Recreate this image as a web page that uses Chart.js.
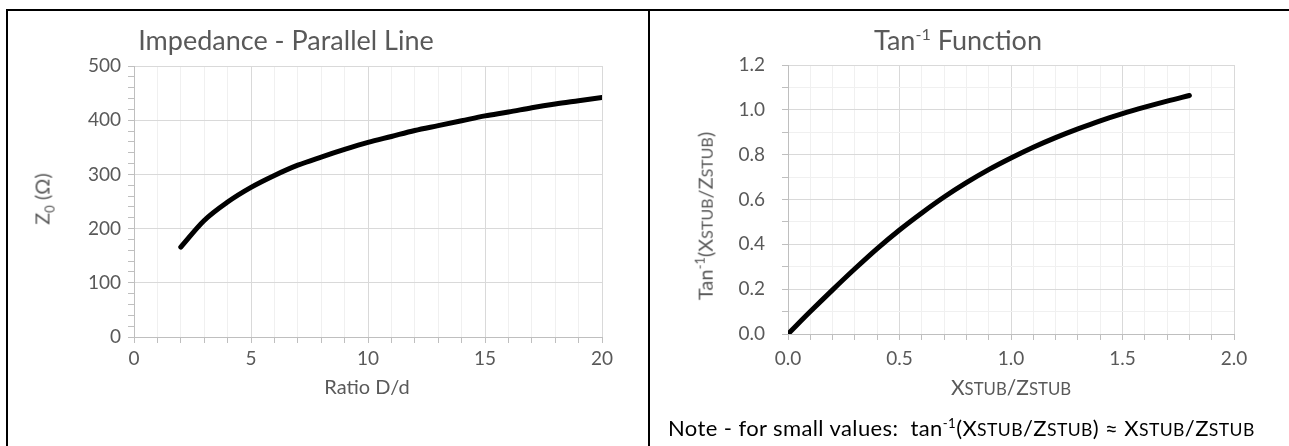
<!DOCTYPE html>
<html>
<head>
<meta charset="utf-8">
<script src="https://cdn.jsdelivr.net/npm/chart.js@4.4.0/dist/chart.umd.min.js"></script>
<style>
  body { margin: 0; background: #fff; }
  #wrap { position: relative; width: 1289px; height: 446px; overflow: hidden; font-family: Lato, "Open Sans", sans-serif; color: #595959; }
  .frame { position: absolute; background: #000; }
  canvas { position: absolute; }
  .txt { position: absolute; white-space: nowrap; line-height: 1; }
  .sc { font-size: 0.8em; }
  .title { font-size: 27px; transform: translateX(-50%); }
  .axt { font-size: 20px; }
  .rot { transform: translate(-50%, -50%) rotate(-90deg); }
</style>
</head>
<body>
<div id="wrap">
  <div class="frame" style="left:6px;top:9px;width:1283px;height:2px"></div>
  <div class="frame" style="left:6px;top:9px;width:2px;height:437px"></div>
  <div class="frame" style="left:648px;top:9px;width:2px;height:437px"></div>

  <canvas id="chartZ" width="640" height="435" style="left:8px;top:11px"></canvas>
  <canvas id="chartT" width="639" height="435" style="left:650px;top:11px"></canvas>

  <div class="txt title" style="left:286px;top:26px">Impedance - Parallel Line</div>
  <div class="txt title" style="left:958px;top:26px">Tan<sup style="font-size:0.6em">-1</sup> Function</div>

  <div class="txt axt rot" style="left:44px;top:199px">Z<sub style="font-size:0.65em">0</sub> (Ω)</div>
  <div class="txt axt" style="left:367px;top:376px;transform:translateX(-50%)">Ratio D/d</div>

  <div class="txt axt rot" style="left:704px;top:216px">Tan<sup style="font-size:0.65em">-1</sup>(X<span class="sc">STUB</span>/Z<span class="sc">STUB</span>)</div>
  <div class="txt axt" style="left:1011px;top:376px;font-size:21px;transform:translateX(-50%)">X<span class="sc">STUB</span>/Z<span class="sc">STUB</span></div>

  <div class="txt" style="left:668px;top:417px;font-size:22px;letter-spacing:0.4px;color:#000">Note - for small values:&nbsp; tan<sup style="font-size:0.6em">-1</sup>(X<span class="sc">STUB</span>/Z<span class="sc">STUB</span>) ≈ X<span class="sc">STUB</span>/Z<span class="sc">STUB</span></div>
</div>

<script>
// Impedance of a parallel line vs D/d
const ratio = [2, 3, 4, 5, 6, 7, 8, 9, 10, 11, 12, 13, 14, 15, 16, 17, 18, 19, 20];
const impedance = [166, 215, 249, 276, 298, 317, 332, 346, 359, 370, 381, 390, 399, 408, 415, 423, 430, 436, 442];

// arctan curve
const xstub = [0, 0.1, 0.2, 0.3, 0.4, 0.5, 0.6, 0.7, 0.8, 0.9, 1.0, 1.1, 1.2, 1.3, 1.4, 1.5, 1.6, 1.7, 1.8];
const atanVals = [0, 0.10, 0.197, 0.291, 0.381, 0.464, 0.540, 0.611, 0.675, 0.733, 0.785, 0.833, 0.876, 0.915, 0.951, 0.983, 1.012, 1.039, 1.064];

const gris = '#595959';
const major = '#d9d9d9';
const minor = '#f0f0f0';
const eje = '#bfbfbf';
const fuente = { family: 'Lato, "Open Sans", sans-serif', size: 19 };

function toPoints(xs, ys) {
  return xs.map((x, i) => ({ x: x, y: ys[i] }));
}

function linea(data) {
  return {
    data: data,
    borderColor: '#000',
    borderWidth: 5,
    borderCapStyle: 'round',
    pointRadius: 0,
    cubicInterpolationMode: 'monotone',
    showLine: true
  };
}

// left chart
new Chart(document.getElementById('chartZ'), {
  type: 'scatter',
  data: { datasets: [linea(toPoints(ratio, impedance))] },
  options: {
    responsive: false,
    animation: false,
    layout: { padding: { left: 0, right: 46, top: 55, bottom: 0 } },
    plugins: { legend: { display: false }, tooltip: { enabled: false } },
    scales: {
      x: {
        type: 'linear', min: 0, max: 20,
        afterFit: s => { s.height = 109; },
        border: { color: eje },
        grid: {
          color: c => (c.tick.value % 5 === 0 ? major : minor),
          tickColor: eje,
          tickLength: 6
        },
        ticks: {
          stepSize: 1, autoSkip: false, maxRotation: 0, padding: 4,
          color: gris, font: fuente,
          callback: v => (v % 5 === 0 ? v : '')
        }
      },
      y: {
        type: 'linear', min: 0, max: 500,
        afterFit: s => { s.width = 126; },
        border: { color: eje },
        grid: {
          color: c => (c.tick.value % 100 === 0 ? major : 'rgba(0,0,0,0)'),
          tickColor: eje,
          tickLength: 6
        },
        ticks: {
          stepSize: 20, autoSkip: false, padding: 7,
          color: gris, font: fuente,
          callback: v => (v % 100 === 0 ? v : '')
        }
      }
    }
  }
});

// right chart
new Chart(document.getElementById('chartT'), {
  type: 'scatter',
  data: { datasets: [linea(toPoints(xstub, atanVals))] },
  options: {
    responsive: false,
    animation: false,
    layout: { padding: { left: 0, right: 55, top: 54, bottom: 0 } },
    plugins: { legend: { display: false }, tooltip: { enabled: false } },
    scales: {
      x: {
        type: 'linear', min: 0, max: 2,
        afterFit: s => { s.height = 112; },
        border: { color: eje },
        grid: {
          color: c => (Math.round(c.tick.value * 10) % 5 === 0 ? major : minor),
          tickColor: eje,
          tickLength: 6
        },
        ticks: {
          stepSize: 0.1, autoSkip: false, maxRotation: 0, padding: 7,
          color: gris, font: fuente,
          callback: v => (Math.round(v * 10) % 5 === 0 ? v.toFixed(1) : '')
        }
      },
      y: {
        type: 'linear', min: 0, max: 1.2,
        afterFit: s => { s.width = 138; },
        border: { color: eje },
        grid: {
          color: c => (Math.round(c.tick.value * 10) % 2 === 0 ? major : minor),
          tickColor: eje,
          tickLength: 6
        },
        ticks: {
          stepSize: 0.1, autoSkip: false, padding: 17,
          color: gris, font: fuente,
          callback: v => (Math.round(v * 10) % 2 === 0 ? v.toFixed(1) : '')
        }
      }
    }
  }
});
</script>
</body>
</html>
